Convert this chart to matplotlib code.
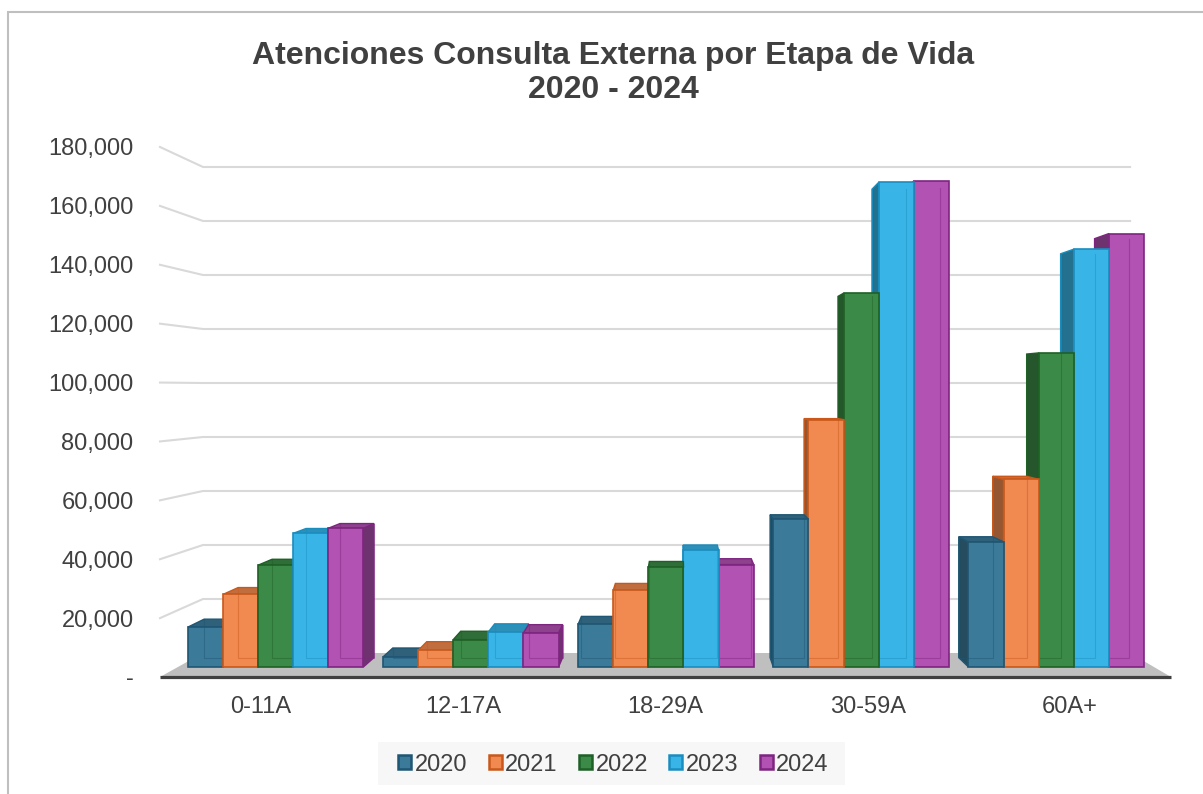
import numpy as np
import matplotlib
matplotlib.use('Agg')
import matplotlib.pyplot as plt
from matplotlib.patches import Polygon, Patch, Rectangle
from matplotlib.colors import to_rgb

categories = ['0-11A', '12-17A', '18-29A', '30-59A', '60A+']
years = ['2020', '2021', '2022', '2023', '2024']
v2020 = [14000, 3500, 15000, 52000, 44000]
v2021 = [25500, 5800, 27000, 87000, 66000]
v2022 = [35800, 9600, 35000, 131500, 110500]
v2023 = [47000, 12300, 41000, 170500, 147000]
v2024 = [48800, 12000, 36000, 171000, 152500]
yticks = [0, 20000, 40000, 60000, 80000, 100000, 120000, 140000, 160000, 180000]

face_colors = ['#3B7A99', '#F08A50', '#3C8A47', '#38B4E6', '#B252B2']
edge_colors = ['#1F5673', '#C9581A', '#1E6026', '#1A8DBF', '#7E2580']

# perspective: vanishing point in data units, depth scale factors
VX, VY = 2.062, 98200
S_WALL = 0.917
S_FRONT, S_BACK = 0.965, 0.933
BAR_W = 0.18

plt.rcParams['font.family'] = ['Liberation Sans', 'DejaVu Sans']
TXT = '#404040'


def proj(x, y, s):
    return VX + s * (x - VX), VY + s * (y - VY)


def shade(color, f):
    r, g, b = to_rgb(color)
    return (r * f, g * f, b * f)


def draw_bar(ax, x0, v, fc, ec, z):
    x1 = x0 + BAR_W
    fl, fr = proj(x0, v, S_FRONT), proj(x1, v, S_FRONT)
    bl, br = proj(x0, v, S_BACK), proj(x1, v, S_BACK)
    fl0, fr0 = proj(x0, 0, S_FRONT), proj(x1, 0, S_FRONT)
    bl0, br0 = proj(x0, 0, S_BACK), proj(x1, 0, S_BACK)
    if x1 <= VX:
        side = [fr0, fr, br, br0]
    elif x0 >= VX:
        side = [fl0, fl, bl, bl0]
    else:
        side = None
    if side is not None:
        ax.add_patch(Polygon(side, closed=True, fc=shade(fc, 0.62), ec=ec,
                             lw=1, zorder=z))
    if v < VY:
        ax.add_patch(Polygon([fl, fr, br, bl], closed=True,
                             fc=shade(fc, 0.8), ec=ec, lw=1, zorder=z))
    ax.add_patch(Polygon([fl0, fr0, fr, fl], closed=True, fc=fc, ec=ec,
                         lw=1.2, zorder=z + 0.5))
    # inner back edges seen through the glassy face
    ax.plot([bl[0], bl0[0], br0[0], br[0]], [bl[1], bl0[1], br0[1], br[1]],
            color=ec, lw=0.8, alpha=0.45, zorder=z + 0.6)


fig = plt.figure(figsize=(12.03, 7.94), dpi=100)
ax = fig.add_axes([160 / 1203, 1 - 677 / 794, 1011 / 1203, 530 / 794])
ax.set_xlim(-0.5, 4.5)
ax.set_ylim(0, 180000)

# back wall gridlines + left wall diagonals
for t in yticks[1:]:
    p0 = proj(-0.5, t, 1.0)
    p1 = proj(-0.5, t, S_WALL)
    p2 = proj(4.5, t, S_WALL)
    ax.plot([p0[0], p1[0], p2[0]], [p0[1], p1[1], p2[1]],
            color='#D9D9D9', lw=1.5, zorder=1, clip_on=False)

# floor
floor = [proj(-0.5, 0, 1.0), proj(4.5, 0, 1.0),
         proj(4.5, 0, S_WALL), proj(-0.5, 0, S_WALL)]
ax.add_patch(Polygon(floor, closed=True, fc='#BFBFBF', ec='none', zorder=2,
                     clip_on=False))
ax.plot([-0.5, 4.5], [0, 0], color='#404040', lw=2.3, zorder=200,
        clip_on=False, solid_capstyle='butt')

series = [v2020, v2021, v2022, v2023, v2024]
bars = []
for i in range(len(categories)):
    for j, vals in enumerate(series):
        x0 = i - 2.5 * BAR_W + j * BAR_W
        bars.append((abs(x0 + BAR_W / 2 - VX), x0, vals[i], j))
bars.sort(key=lambda b: -b[0])
for k, (_, x0, v, j) in enumerate(bars):
    draw_bar(ax, x0, v, face_colors[j], edge_colors[j], 3 + k)

ax.set_xticks(range(len(categories)))
ax.set_xticklabels(categories)
ax.set_yticks(yticks)
ax.set_yticklabels(['-'] + [f'{t:,}' for t in yticks[1:]])
ax.tick_params(axis='x', length=0, pad=14, labelsize=17, colors=TXT)
ax.tick_params(axis='y', length=0, pad=19, labelsize=17, colors=TXT)
for sp in ax.spines.values():
    sp.set_visible(False)

fig.text(0.51, 1 - 73 / 794,
         'Atenciones Consulta Externa por Etapa de Vida\n2020 - 2024',
         ha='center', va='center', fontsize=23, fontweight='bold', color=TXT,
         linespacing=1.15)

# legend background box
fig.add_artist(Rectangle((378 / 1203, 1 - 785 / 794), 467 / 1203, 43 / 794,
                         transform=fig.transFigure, fc='#F7F7F7', ec='none',
                         zorder=0))
handles = [Patch(fc=face_colors[j], ec=edge_colors[j], lw=1.8)
           for j in range(len(years))]
leg = fig.legend(handles, years, loc='center', bbox_to_anchor=(0.51, 0.037),
                 ncol=5, fontsize=17, frameon=False, handlelength=0.55,
                 handleheight=0.55, handletextpad=0.15, columnspacing=0.9)
for t in leg.get_texts():
    t.set_color(TXT)

fig.add_artist(Rectangle((8 / 1203, -0.1), 1.2, 1.1 - 12 / 794,
                         transform=fig.transFigure, fill=False,
                         ec='#BFBFBF', lw=1.5))

fig.savefig('out.png', dpi=100)
